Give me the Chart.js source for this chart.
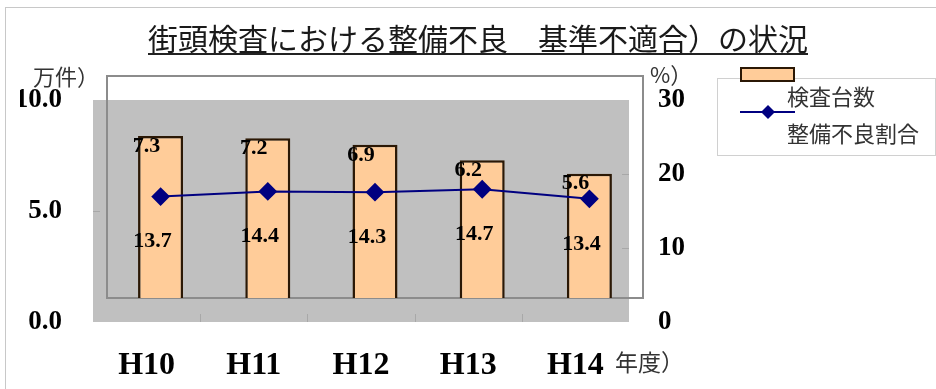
<!DOCTYPE html>
<html lang="ja">
<head>
<meta charset="utf-8">
<script src="https://cdn.jsdelivr.net/npm/chart.js@4"></script>
<style>
html,body{margin:0;padding:0;background:#fff;}
canvas{display:block;}
</style>
</head>
<body>
<canvas id="c" width="936" height="389"></canvas>
<script>
// 街頭検査：検査台数と整備不良割合の推移
const titleText = '街頭検査における整備不良　基準不適合）の状況';
const years = ['H10', 'H11', 'H12', 'H13', 'H14'];
const inspected = [7.3, 7.2, 6.9, 6.2, 5.6];        // 検査台数（万件）
const defectRate = [13.7, 14.4, 14.3, 14.7, 13.4];  // 整備不良割合（%）
const countTicks = [0, 5, 10];
const rateTicks = [0, 10, 20, 30];
const countUnit = '万件）';
const rateUnit = '%）';
const yearUnit = '年度）';
const seriesNames = ['検査台数', '整備不良割合'];

const BAR_FILL = '#FFCC99';
const BAR_EDGE = '#2b1805';
const LINE = '#000080';
const PLOT_GREY = '#C0C0C0';
const SERIF = "'Liberation Serif', 'Times New Roman', serif";
const GOTHIC = "'Noto Sans CJK JP', 'Noto Sans', sans-serif";
// the grey plot backdrop, axis labels and value labels sit offset from the frame
const SHIFT_X = -14;
const SHIFT_Y = 24;

const backdrop = {
  id: 'backdrop',
  beforeDraw(chart) {
    const { ctx, width, height } = chart;
    ctx.save();
    ctx.fillStyle = '#fff';
    ctx.fillRect(0, 0, width, height);
    ctx.strokeStyle = '#c8c8c8';
    ctx.lineWidth = 1;
    ctx.strokeRect(5.5, 7.5, width + 20, height + 20);
    ctx.restore();
  },
  beforeDatasetsDraw(chart) {
    const { ctx, chartArea: a, scales } = chart;
    ctx.save();
    ctx.fillStyle = PLOT_GREY;
    ctx.fillRect(a.left + SHIFT_X, a.top + SHIFT_Y, a.width, a.height);

    // faint tick marks along the backdrop edges
    ctx.strokeStyle = '#a8a8a8';
    ctx.lineWidth = 1;
    ctx.beginPath();
    countTicks.slice(1, -1).forEach(v => {
      const y = Math.round(scales.y.getPixelForValue(v) + SHIFT_Y) + 0.5;
      ctx.moveTo(a.left + SHIFT_X, y);
      ctx.lineTo(a.left + SHIFT_X + 7, y);
    });
    rateTicks.slice(1, -1).forEach(v => {
      const y = Math.round(scales.y2.getPixelForValue(v) + SHIFT_Y) + 0.5;
      ctx.moveTo(a.right + SHIFT_X, y);
      ctx.lineTo(a.right + SHIFT_X - 7, y);
    });
    for (let i = 1; i < years.length; i++) {
      const x = Math.round((scales.x.getPixelForValue(i - 1) + scales.x.getPixelForValue(i)) / 2 + SHIFT_X) + 0.5;
      ctx.moveTo(x, a.bottom + SHIFT_Y);
      ctx.lineTo(x, a.bottom + SHIFT_Y - 8);
    }
    ctx.stroke();

    // plot frame
    ctx.strokeStyle = '#8c8c8c';
    ctx.lineWidth = 2;
    ctx.strokeRect(a.left, a.top, a.width, a.height);
    ctx.restore();
  }
};

const valueLabels = {
  id: 'valueLabels',
  afterDatasetsDraw(chart) {
    const { ctx } = chart;
    ctx.save();
    ctx.font = `bold 22px ${SERIF}`;
    ctx.fillStyle = '#000';
    ctx.textAlign = 'center';
    ctx.textBaseline = 'middle';
    chart.data.datasets.forEach((ds, di) => {
      const meta = chart.getDatasetMeta(di);
      meta.data.forEach((el, i) => {
        const text = ds.data[i].toFixed(1);
        if (ds.type === 'bar') {
          ctx.fillText(text, el.x + SHIFT_X, el.y + SHIFT_Y - 14);
        } else {
          ctx.fillText(text, el.x - 8, el.y + 45);
        }
      });
    });
    ctx.restore();
  }
};

const decorations = {
  id: 'decorations',
  afterDraw(chart) {
    const { ctx } = chart;
    ctx.save();

    // title underline
    const tb = chart.titleBlock;
    const tOpts = chart.options.plugins.title;
    ctx.font = `normal ${tOpts.font.size}px ${GOTHIC}`;
    const tw = ctx.measureText(titleText).width;
    const cx = tb.left + tb.width / 2;
    const uy = tb.top + tOpts.padding.top + tOpts.font.size * 0.6 + 15;
    ctx.strokeStyle = '#222';
    ctx.lineWidth = 2;
    ctx.beginPath();
    ctx.moveTo(cx - tw / 2, uy);
    ctx.lineTo(cx + tw / 2, uy);
    ctx.stroke();

    // axis units
    ctx.fillStyle = '#333';
    ctx.textBaseline = 'middle';
    ctx.textAlign = 'left';
    ctx.font = `22px ${GOTHIC}`;
    ctx.fillText(countUnit, 33, 77);
    ctx.fillText(rateUnit, 650, 75);
    ctx.font = `23px ${GOTHIC}`;
    ctx.fillText(yearUnit, 615, 362);

    // legend
    ctx.strokeStyle = '#d0d0d0';
    ctx.lineWidth = 1;
    ctx.strokeRect(717.5, 78.5, 218, 77);

    ctx.fillStyle = BAR_FILL;
    ctx.fillRect(741, 68, 53, 13);
    ctx.strokeStyle = BAR_EDGE;
    ctx.lineWidth = 2;
    ctx.strokeRect(741, 68, 53, 13);

    ctx.strokeStyle = LINE;
    ctx.lineWidth = 2;
    ctx.beginPath();
    ctx.moveTo(740, 112);
    ctx.lineTo(795, 112);
    ctx.stroke();
    ctx.fillStyle = LINE;
    ctx.beginPath();
    ctx.moveTo(768, 105);
    ctx.lineTo(775, 112);
    ctx.lineTo(768, 119);
    ctx.lineTo(761, 112);
    ctx.closePath();
    ctx.fill();

    ctx.fillStyle = '#333';
    ctx.font = `22px ${GOTHIC}`;
    ctx.fillText(seriesNames[0], 787, 97);
    ctx.fillText(seriesNames[1], 787, 134);
    ctx.restore();
  }
};

new Chart(document.getElementById('c'), {
  data: {
    labels: years,
    datasets: [
      {
        type: 'line',
        label: seriesNames[1],
        data: defectRate,
        yAxisID: 'y2',
        order: 0,
        borderColor: LINE,
        backgroundColor: LINE,
        borderWidth: 2,
        tension: 0,
        pointStyle: 'rectRot',
        pointRadius: 8,
        pointBorderColor: LINE,
        pointBackgroundColor: LINE
      },
      {
        type: 'bar',
        label: seriesNames[0],
        data: inspected,
        yAxisID: 'y',
        order: 1,
        backgroundColor: BAR_FILL,
        borderColor: BAR_EDGE,
        borderWidth: 2.5,
        barPercentage: 0.42,
        categoryPercentage: 1
      }
    ]
  },
  options: {
    responsive: false,
    animation: false,
    devicePixelRatio: 1,
    layout: { padding: { left: 20, right: 0, top: 0, bottom: 0 } },
    plugins: {
      legend: { display: false },
      tooltip: { enabled: false },
      title: {
        display: true,
        text: titleText,
        color: '#1a1a1a',
        font: { family: GOTHIC, size: 30, weight: 'normal', lineHeight: 1.2 },
        padding: { top: 21, bottom: 19 }
      }
    },
    scales: {
      x: {
        grid: { display: false },
        border: { display: false },
        ticks: {
          color: '#000',
          font: { family: SERIF, size: 32, weight: 'bold' },
          padding: 41,
          labelOffset: SHIFT_X
        },
        afterFit(s) { s.height = 91; }
      },
      y: {
        position: 'left',
        min: 0,
        max: 10,
        afterBuildTicks(s) { s.ticks = countTicks.map(v => ({ value: v })); },
        grid: { display: false },
        border: { display: false },
        ticks: {
          callback: v => Number(v).toFixed(1),
          color: '#000',
          font: { family: SERIF, size: 27, weight: 'bold' },
          padding: 37,
          labelOffset: SHIFT_Y
        },
        afterFit(s) { s.width = 87; }
      },
      y2: {
        position: 'right',
        min: 0,
        max: 30,
        afterBuildTicks(s) { s.ticks = rateTicks.map(v => ({ value: v })); },
        grid: { display: false },
        border: { display: false },
        ticks: {
          callback: v => String(v),
          color: '#000',
          font: { family: SERIF, size: 27, weight: 'bold' },
          padding: 7,
          labelOffset: SHIFT_Y
        },
        afterFit(s) { s.width = 293; }
      }
    }
  },
  plugins: [backdrop, valueLabels, decorations]
});
</script>
</body>
</html>
